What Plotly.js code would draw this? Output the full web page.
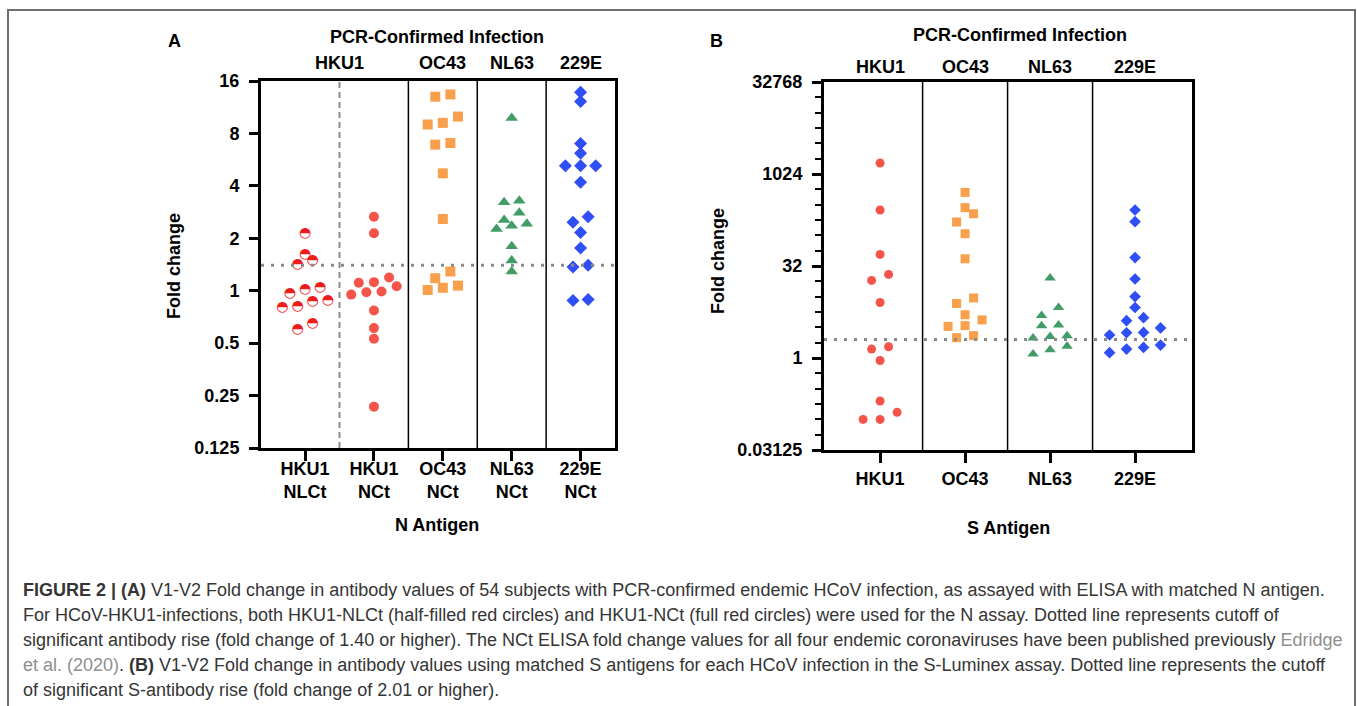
<!DOCTYPE html>
<html>
<head>
<meta charset="utf-8">
<script src="https://cdn.plot.ly/plotly-3.0.1.min.js"></script>
<style>html,body{margin:0;padding:0;background:#fff;}#chart{width:1357px;height:706px;}</style>
</head>
<body>
<div id="chart"></div>
<script>
// ---------- data ----------
const catsA = ["HKU1<br>NLCt", "HKU1<br>NCt", "OC43<br>NCt", "NL63<br>NCt", "229E<br>NCt"];
const catsB = ["HKU1", "OC43", "NL63", "229E"];
const headersA = ["HKU1", "OC43", "NL63", "229E"];
const headersB = ["HKU1", "OC43", "NL63", "229E"];

const a_hku1NLCt = [2.14, 1.62, 1.50, 1.42, 1.04, 1.02, 0.97, 0.87, 0.88, 0.80, 0.81, 0.65, 0.60];
const a_hku1NCt  = [2.66, 2.14, 1.19, 1.11, 1.12, 1.06, 0.95, 0.98, 0.99, 0.77, 0.61, 0.53, 0.216];
const a_oc43NCt  = [13.4, 13.0, 10.0, 9.0, 9.2, 7.05, 6.9, 4.72, 2.58, 1.29, 1.18, 1.07, 1.04, 1.01];
const a_nl63NCt  = [9.8, 3.29, 3.22, 2.80, 2.55, 2.42, 2.36, 2.26, 1.80, 1.49, 1.29];
const a_229eNCt  = [13.8, 12.2, 7.0, 6.15, 5.22, 5.22, 5.22, 4.19, 2.66, 2.47, 2.16, 1.76, 1.40, 1.37, 0.89, 0.88];

const b_hku1 = [1550, 264, 49.5, 23.3, 18.6, 8.1, 1.53, 1.40, 0.91, 0.198, 0.129, 0.099, 0.099];
const b_oc43 = [512, 288, 229, 168, 108, 42, 9.6, 7.8, 5.1, 4.2, 3.38, 3.29, 2.32, 2.15];
const b_nl63 = [20.4, 6.7, 4.98, 3.47, 3.38, 2.32, 2.25, 2.12, 1.55, 1.37, 1.16];
const b_229e = [264, 170, 44, 19.6, 10.1, 6.7, 4.56, 4.08, 3.10, 2.62, 2.59, 2.38, 1.63, 1.49, 1.40, 1.22];

const cutoffA = 1.40;
const cutoffB = 2.01;
const tickValsA = [0.125, 0.25, 0.5, 1, 2, 4, 8, 16];
const tickTextA = ["0.125", "0.25", "0.5", "1", "2", "4", "8", "16"];
const tickValsB = [0.03125, 1, 32, 1024, 32768];
const tickTextB = ["0.03125", "1", "32", "1024", "32768"];

const GREY = "<span style=\"color:#8f8f8f\">";
const captionLines = [
  "<b>FIGURE 2 | (A)</b> V1-V2 Fold change in antibody values of 54 subjects with PCR-confirmed endemic HCoV infection, as assayed with ELISA with matched N antigen.",
  "For HCoV-HKU1-infections, both HKU1-NLCt (half-filled red circles) and HKU1-NCt (full red circles) were used for the N assay. Dotted line represents cutoff of",
  "significant antibody rise (fold change of 1.40 or higher). The NCt ELISA fold change values for all four endemic coronaviruses have been published previously " + GREY + "Edridge</span>",
  GREY + "et al. (2020)</span>. <b>(B)</b> V1-V2 Fold change in antibody values using matched S antigens for each HCoV infection in the S-Luminex assay. Dotted line represents the cutoff",
  "of significant S-antibody rise (fold change of 2.01 or higher)."
];

// ---------- helpers ----------
const W = 1357, H = 706;
const px = x => x / W;
const py = y => 1 - y / H;
const FONT = "Liberation Sans, Arial, Helvetica, sans-serif";

// column scatter spread (GraphPad-like rows)
function spread(values, catIndex, rowThr, step) {
  const idx = values.map((v, i) => i).sort((a, b) => values[a] - values[b]);
  const xs = new Array(values.length);
  let row = [];
  const flush = () => {
    const n = row.length;
    row.forEach((k, j) => { xs[k] = catIndex + (j - (n - 1) / 2) * step; });
    row = [];
  };
  let start = null;
  idx.forEach(k => {
    const l = Math.log2(values[k]);
    if (start === null || l - start > rowThr) { flush(); start = l; }
    row.push(k);
  });
  flush();
  return xs;
}

function markerTrace(values, cat, xa, ya, thr, step, symbol, color, size) {
  return {
    type: "scatter", mode: "markers", xaxis: xa, yaxis: ya,
    x: spread(values, cat, thr, step), y: values,
    marker: { symbol: symbol, color: color, size: size, line: { width: 0 } },
    cliponaxis: false, hoverinfo: "skip"
  };
}

const thrA = 0.17, stepA = 0.22;
const thrB = 0.5, stepB = 0.2;

const traces = [
  {
    type: "scatter", mode: "text", xaxis: "x", yaxis: "y",
    x: spread(a_hku1NLCt, 0, thrA, stepA), y: a_hku1NLCt,
    text: a_hku1NLCt.map(() => "\u25D3"),
    textposition: "middle center",
    textfont: { family: "DejaVu Sans", size: 14, color: "#ee1d1d" },
    cliponaxis: false, hoverinfo: "skip"
  },
  markerTrace(a_hku1NCt, 1, "x", "y", thrA, stepA, "circle", "#f5544b", 10),
  markerTrace(a_oc43NCt, 2, "x", "y", thrA, stepA, "square", "#f8a04c", 10),
  markerTrace(a_nl63NCt, 3, "x", "y", thrA, stepA, "triangle-up", "#419c68", 11),
  markerTrace(a_229eNCt, 4, "x", "y", thrA, stepA, "diamond", "#2f4ef5", 10),
  markerTrace(b_hku1, 0, "x2", "y2", thrB, stepB, "circle", "#f5544b", 9),
  markerTrace(b_oc43, 1, "x2", "y2", thrB, stepB, "square", "#f8a04c", 9),
  markerTrace(b_nl63, 2, "x2", "y2", thrB, stepB, "triangle-up", "#419c68", 10),
  markerTrace(b_229e, 3, "x2", "y2", thrB, stepB, "diamond", "#2f4ef5", 9)
];

// minor ticks for panel B: every 5/6 of a doubling between the major ticks
const minorBvals = [];
for (let k = -6; k <= 18; k++) { if (k % 6 !== 0) minorBvals.push(Math.pow(2, k * 5 / 6)); }

const tickFont = { family: FONT, size: 18, color: "#000", weight: 700 };
const axisCommon = {
  showline: true, linecolor: "#000", linewidth: 3, mirror: true,
  ticks: "outside", tickcolor: "#000", tickwidth: 3,
  showgrid: false, zeroline: false, tickfont: tickFont, fixedrange: true
};

const shapes = [];
for (let i = 0; i < catsA.length - 1; i++) {
  shapes.push({
    type: "line", xref: "x", yref: "y domain", x0: i + 0.5, x1: i + 0.5, y0: 0, y1: 1,
    line: i === 0 ? { color: "#8c8c8c", width: 2, dash: "6px,4px" } : { color: "#000", width: 1.5 }
  });
}
for (let i = 0; i < catsB.length - 1; i++) {
  shapes.push({
    type: "line", xref: "x2", yref: "y2 domain", x0: i + 0.5, x1: i + 0.5, y0: 0, y1: 1,
    line: { color: "#000", width: 1.5 }
  });
}
shapes.push({ type: "line", xref: "x domain", yref: "y", x0: 0, x1: 1,
  y0: cutoffA, y1: cutoffA, line: { color: "#8a8a8a", width: 3, dash: "3px,7px" } });
shapes.push({ type: "line", xref: "x2 domain", yref: "y2", x0: 0, x1: 1,
  y0: cutoffB, y1: cutoffB, line: { color: "#8a8a8a", width: 3, dash: "3px,7px" } });
shapes.push({ type: "rect", xref: "paper", yref: "paper", x0: px(8), x1: px(1355), y0: -0.2, y1: py(10),
  line: { color: "#6e6e6e", width: 2 }, layer: "below" });

const boldAnn = (text, x, y, opts) => Object.assign({
  text: text, xref: "paper", yref: "paper", x: px(x), y: py(y),
  xanchor: "center", yanchor: "middle", showarrow: false,
  font: { family: FONT, size: 18, color: "#000", weight: 700 }
}, opts || {});

const annotations = [
  boldAnn("A", 174, 41),
  boldAnn("B", 716, 41),
  boldAnn("PCR-Confirmed Infection", 437, 37),
  boldAnn("PCR-Confirmed Infection", 1020, 35),
  boldAnn("Fold change", 174, 266, { textangle: -90 }),
  boldAnn("Fold change", 718, 261, { textangle: -90 }),
  boldAnn("N Antigen", 437, 525),
  boldAnn("S Antigen", 1008, 528)
];
[0.5, 2, 3, 4].forEach((xv, i) => annotations.push({
  text: headersA[i], xref: "x", yref: "paper", x: xv, y: py(63), xanchor: "center", yanchor: "middle",
  showarrow: false, font: { family: FONT, size: 18, color: "#000", weight: 700 }
}));
headersB.forEach((h, i) => annotations.push({
  text: h, xref: "x2", yref: "paper", x: i, y: py(67), xanchor: "center", yanchor: "middle",
  showarrow: false, font: { family: FONT, size: 18, color: "#000", weight: 700 }
}));

// caption lines
const capY = [590, 615, 640, 665, 690];
captionLines.forEach((t, i) => annotations.push({
  text: t, xref: "paper", yref: "paper", x: px(21), y: py(capY[i]), xanchor: "left", yanchor: "middle",
  showarrow: false, font: { family: FONT, size: 18, color: "#353535" }
}));

const layout = {
  width: W, height: H, margin: { l: 0, r: 0, t: 0, b: 0 },
  paper_bgcolor: "#fff", plot_bgcolor: "rgba(0,0,0,0)", showlegend: false,
  xaxis: Object.assign({}, axisCommon, {
    domain: [px(261), px(615)], range: [-0.64, 4.5],
    tickvals: catsA.map((c, i) => i), ticktext: catsA, ticklen: 10, ticklabelstandoff: -8, anchor: "y"
  }),
  yaxis: Object.assign({}, axisCommon, {
    type: "log", domain: [py(448), py(81)], range: [Math.log10(0.125), Math.log10(16)],
    tickvals: tickValsA, ticktext: tickTextA, ticklen: 9, ticklabelstandoff: 6, anchor: "x"
  }),
  xaxis2: Object.assign({}, axisCommon, {
    domain: [px(824), px(1192)], range: [-0.66, 3.67],
    tickvals: catsB.map((c, i) => i), ticktext: catsB, ticklen: 10, anchor: "y2"
  }),
  yaxis2: Object.assign({}, axisCommon, {
    type: "log", domain: [py(450), py(82)], range: [Math.log10(0.03125), Math.log10(32768)],
    tickvals: tickValsB, ticktext: tickTextB, ticklen: 9, ticklabelstandoff: 6, anchor: "x2",
    minor: { tickvals: minorBvals, ticks: "outside", ticklen: 6, tickwidth: 2, tickcolor: "#000" }
  }),
  shapes: shapes,
  annotations: annotations
};

Plotly.newPlot("chart", traces, layout, { staticPlot: true, displayModeBar: false });
</script>
</body>
</html>
